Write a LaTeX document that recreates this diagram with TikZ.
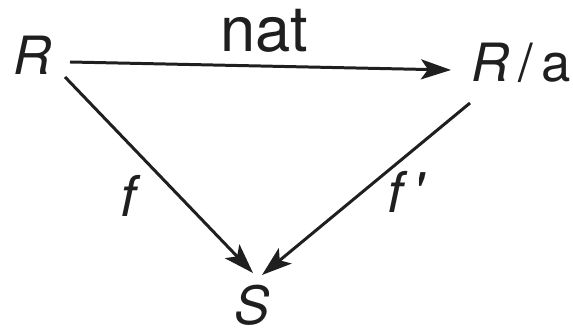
\documentclass[tikz,border=0pt]{standalone}
\usepackage{fontspec}
\setmainfont{TeX Gyre Heros}
\usetikzlibrary{arrows.meta}
\definecolor{ink}{gray}{0.12}

\begin{document}
\begin{tikzpicture}[x=0.01cm, y=-0.01cm,
		obj/.style={anchor=base, inner sep=0pt, text=ink, font=\fontsize{15}{18}\selectfont},
		lbl/.style={inner sep=0pt, text=ink, font=\fontsize{16}{19}\selectfont\itshape},
		map/.style={draw=ink, line width=0.85pt, -{Stealth[length=0.3cm, width=0.2cm, inset=0.07cm]}}]
		\useasboundingbox (0,0) rectangle (573,331);
		%objects
		\node[obj] (R) at (33,75) {\itshape R};
		\node[obj] (Ra) at (521,82) {\textit{R}\,/\,a};
		\node[obj] (S) at (252,324) {\itshape S};
		%top arrow
		\draw[map] ([shift={(37,-13)}]R.base) to ([shift={(-70,-12)}]Ra.base);
		\node[obj, font=\fontsize{18}{21}\selectfont] (nat) at (264,52) {nat};
		%arrows down to S
		\draw[map] ([shift={(32,2)}]R.base) to ([shift={(1,-51)}]S.base);
		\draw[map] ([shift={(-51,21)}]Ra.base) to ([shift={(10,-49)}]S.base);
		\node[lbl] (f) at (128,196) {f};
		\node[lbl] (fp) at (405,192) {f\,\textquotesingle};
	\end{tikzpicture}
\end{document}
